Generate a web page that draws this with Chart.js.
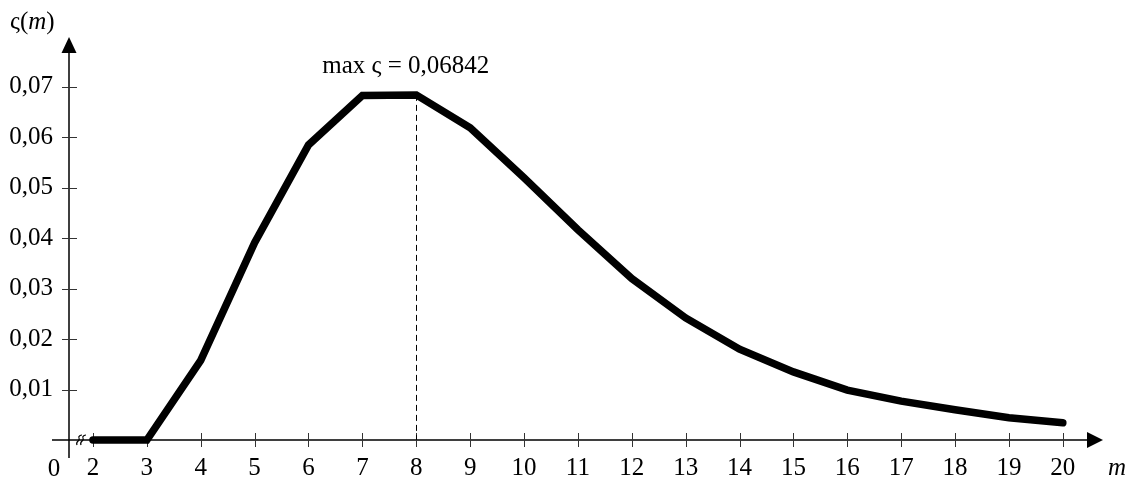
<!DOCTYPE html>
<html>
<head>
<meta charset="utf-8">
<script src="https://cdn.jsdelivr.net/npm/chart.js@4/dist/chart.umd.min.js"></script>
<style>
  html, body { margin: 0; padding: 0; background: #fff; }
</style>
</head>
<body>
<canvas id="chart" width="1129" height="477"></canvas>
<script>
// values
const mValues = [2, 3, 4, 5, 6, 7, 8, 9, 10, 11, 12, 13, 14, 15, 16, 17, 18, 19, 20];
const sigmaValues = [0, 0, 0.0158, 0.0391, 0.0585, 0.0683, 0.06842, 0.0619, 0.052, 0.0417,
  0.032, 0.0242, 0.018, 0.0135, 0.0099, 0.0077, 0.006, 0.0044, 0.0034];
const xTicks = [2, 3, 4, 5, 6, 7, 8, 9, 10, 11, 12, 13, 14, 15, 16, 17, 18, 19, 20];
const yTicks = [0.01, 0.02, 0.03, 0.04, 0.05, 0.06, 0.07];
const yTickLabels = ['0,01', '0,02', '0,03', '0,04', '0,05', '0,06', '0,07'];
const peakM = 8;
const peakLabel = 'max ς = 0,06842';

const FONT = '"Liberation Serif", "Times New Roman", serif';
const FS = 25;

const axesPlugin = {
  id: 'axes',
  beforeDatasetsDraw(chart) {
    const ctx = chart.ctx;
    const xs = chart.scales.x, ys = chart.scales.y;
    const ox = chart.chartArea.left, oy = chart.chartArea.bottom;
    const right = chart.chartArea.right, top = chart.chartArea.top;
    ctx.save();
    ctx.strokeStyle = '#000';
    ctx.fillStyle = '#000';
    ctx.lineWidth = 1.5;

    // axis lines
    ctx.beginPath();
    ctx.moveTo(52, oy); ctx.lineTo(right - 10, oy);
    ctx.moveTo(ox, 458); ctx.lineTo(ox, top + 10);
    ctx.stroke();

    // arrow heads
    ctx.beginPath();
    ctx.moveTo(right + 3, oy);
    ctx.lineTo(right - 13, oy - 8);
    ctx.lineTo(right - 13, oy + 8);
    ctx.closePath();
    ctx.fill();
    ctx.beginPath();
    ctx.moveTo(ox, top - 1);
    ctx.lineTo(ox - 7.5, top + 15);
    ctx.lineTo(ox + 7.5, top + 15);
    ctx.closePath();
    ctx.fill();

    // tick marks crossing the axes
    ctx.lineWidth = 1;
    ctx.strokeStyle = '#333';
    ctx.beginPath();
    xTicks.forEach(v => {
      const px = Math.round(xs.getPixelForValue(v)) + 0.5;
      ctx.moveTo(px, oy - 7); ctx.lineTo(px, oy + 7);
    });
    yTicks.forEach(v => {
      const py = Math.round(ys.getPixelForValue(v)) + 0.5;
      ctx.moveTo(ox - 7, py); ctx.lineTo(ox + 8, py);
    });
    ctx.stroke();

    // axis break mark
    ctx.strokeStyle = '#000';
    ctx.lineWidth = 1.2;
    [0, 4].forEach(d => {
      const bx = 79 + d, by = oy;
      ctx.beginPath();
      ctx.moveTo(bx - 2, by + 5);
      ctx.bezierCurveTo(bx - 4, by + 1, bx + 2, by + 1, bx, by - 2);
      ctx.bezierCurveTo(bx - 1, by - 4, bx + 2, by - 5, bx + 3, by - 5);
      ctx.stroke();
    });

    // dashed line at the maximum
    const idx = mValues.indexOf(peakM);
    const px = Math.round(xs.getPixelForValue(peakM)) + 0.5;
    ctx.strokeStyle = '#000';
    ctx.lineWidth = 1;
    ctx.setLineDash([6, 4]);
    ctx.beginPath();
    ctx.moveTo(px, ys.getPixelForValue(sigmaValues[idx]));
    ctx.lineTo(px, oy);
    ctx.stroke();
    ctx.setLineDash([]);
    ctx.restore();
  },
  afterDraw(chart) {
    const ctx = chart.ctx;
    const xs = chart.scales.x;
    ctx.save();
    ctx.fillStyle = '#000';
    ctx.textBaseline = 'alphabetic';

    // origin label
    ctx.font = FS + 'px ' + FONT;
    ctx.textAlign = 'center';
    ctx.fillText('0', 54, 476);

    // x axis title
    ctx.font = 'italic ' + FS + 'px ' + FONT;
    ctx.textAlign = 'left';
    ctx.fillText('m', 1108, 475);

    // y axis title: ς(m)
    ctx.font = FS + 'px ' + FONT;
    let tx = 10;
    ctx.fillText('ς(', tx, 29);
    tx += ctx.measureText('ς(').width;
    ctx.font = 'italic ' + FS + 'px ' + FONT;
    ctx.fillText('m', tx, 29);
    tx += ctx.measureText('m').width;
    ctx.font = FS + 'px ' + FONT;
    ctx.fillText(')', tx, 29);

    // max annotation
    ctx.font = FS + 'px ' + FONT;
    ctx.textAlign = 'left';
    ctx.fillText(peakLabel, xs.getPixelForValue(peakM) - 94, 73);
    ctx.restore();
  }
};

new Chart(document.getElementById('chart'), {
  type: 'line',
  data: {
    datasets: [{
      data: mValues.map((m, i) => ({ x: m, y: sigmaValues[i] })),
      borderColor: '#000',
      borderWidth: 7.5,
      borderCapStyle: 'round',
      borderJoinStyle: 'miter',
      pointRadius: 0,
      tension: 0,
      fill: false,
      clip: false
    }]
  },
  options: {
    responsive: false,
    animation: false,
    devicePixelRatio: 1,
    layout: { padding: { left: 0, right: 29, top: 38, bottom: 0 } },
    plugins: { legend: { display: false }, tooltip: { enabled: false } },
    scales: {
      x: {
        type: 'linear',
        min: 1.555,
        max: 20.69,
        afterBuildTicks: s => { s.ticks = xTicks.map(v => ({ value: v })); },
        afterFit: s => { s.height = 37; },
        grid: { display: false, drawTicks: false },
        border: { display: false },
        ticks: {
          color: '#000',
          font: { family: FONT, size: FS },
          padding: 13,
          maxRotation: 0,
          autoSkip: false,
          callback: v => String(v)
        }
      },
      y: {
        type: 'linear',
        min: 0,
        max: 0.0797,
        afterBuildTicks: s => { s.ticks = yTicks.map(v => ({ value: v })); },
        afterFit: s => { s.width = 69; },
        grid: { display: false, drawTicks: false },
        border: { display: false },
        ticks: {
          color: '#000',
          font: { family: FONT, size: FS },
          padding: 16,
          autoSkip: false,
          callback: v => {
            const i = yTicks.findIndex(t => Math.abs(t - v) < 1e-9);
            return i >= 0 ? yTickLabels[i] : '';
          }
        }
      }
    }
  },
  plugins: [axesPlugin]
});
</script>
</body>
</html>
